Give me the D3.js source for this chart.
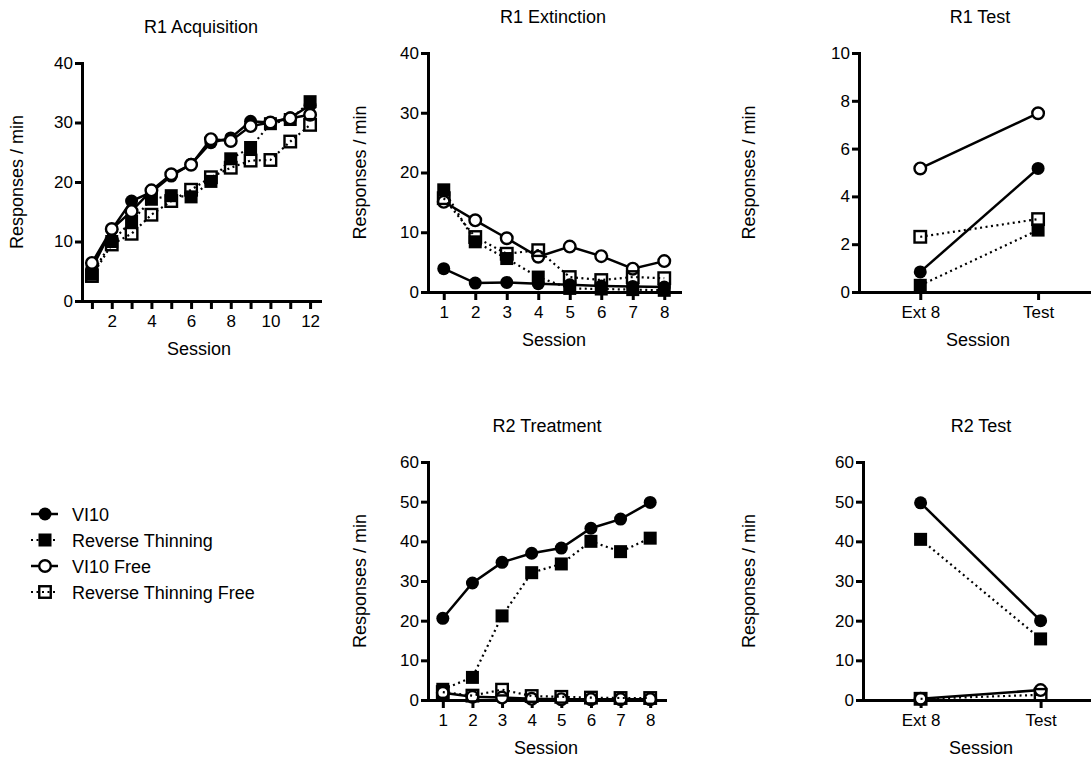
<!DOCTYPE html>
<html lang="en">
<head>
<meta charset="utf-8">
<script src="https://d3js.org/d3.v7.min.js"></script>
<style>
  body { margin: 0; background: #fff; }
  text { font-family: "Liberation Sans", Arial, sans-serif; fill: #000; }
</style>
</head>
<body>
<script>
// ---- data ----
var seriesNames = ["VI10", "Reverse Thinning", "VI10 Free", "Reverse Thinning Free"];

// R1 Acquisition
var acqSessions = [1, 2, 3, 4, 5, 6, 7, 8, 9, 10, 11, 12];
var acqVI10     = [5.5, 12.0, 16.8, 18.3, 21.0, 23.0, 26.6, 27.4, 30.2, 30.0, 30.8, 32.9];
var acqRT       = [4.5, 10.0, 13.4, 17.1, 17.7, 17.5, 20.1, 23.9, 25.8, 29.8, 30.5, 33.5];
var acqVI10Free = [6.4, 12.1, 15.1, 18.6, 21.3, 22.9, 27.2, 26.9, 29.4, 30.0, 30.7, 31.3];
var acqRTFree   = [4.2, 9.5, 11.3, 14.5, 16.8, 18.7, 20.8, 22.4, 23.6, 23.7, 26.8, 29.6];

// R1 Extinction
var extSessions = [1, 2, 3, 4, 5, 6, 7, 8];
var extVI10     = [3.9, 1.5, 1.6, 1.4, 1.2, 1.0, 0.9, 0.84];
var extRT       = [17.1, 8.4, 5.6, 2.5, 0.6, 0.5, 0.4, 0.28];
var extVI10Free = [15.1, 12.0, 9.0, 5.9, 7.6, 6.0, 3.9, 5.17];
var extRTFree   = [15.7, 9.2, 6.4, 7.0, 2.5, 2.0, 2.5, 2.31];

// R1 Test
var testLabels   = ["Ext 8", "Test"];
var r1TestVI10     = [0.84, 5.17];
var r1TestRT       = [0.28, 2.59];
var r1TestVI10Free = [5.17, 7.48];
var r1TestRTFree   = [2.31, 3.05];

// R2 Treatment
var trtSessions = [1, 2, 3, 4, 5, 6, 7, 8];
var trtVI10     = [20.6, 29.5, 34.7, 37.0, 38.3, 43.3, 45.6, 49.8];
var trtRT       = [2.7, 5.7, 21.2, 32.1, 34.3, 40.0, 37.4, 40.8];
var trtVI10Free = [1.8, 0.8, 0.6, 0.3, 0.2, 0.2, 0.2, 0.2];
var trtRTFree   = [2.0, 1.1, 2.6, 1.0, 0.8, 0.6, 0.5, 0.5];

// R2 Test
var r2TestVI10     = [49.7, 20.0];
var r2TestRT       = [40.5, 15.4];
var r2TestVI10Free = [0.3, 2.5];
var r2TestRTFree   = [0.3, 1.3];

// ---- styles per series ----
var styles = [
  {shape: "circle", filled: true,  dotted: false},
  {shape: "square", filled: true,  dotted: true},
  {shape: "circle", filled: false, dotted: false},
  {shape: "square", filled: false, dotted: true}
];

var svg = d3.select("body").append("svg")
    .attr("width", 1091)
    .attr("height", 761);

function drawMarker(g, st, cx, cy) {
  if (st.shape == "circle") {
    g.append("circle")
      .attr("cx", cx).attr("cy", cy)
      .attr("r", st.filled ? 6.5 : 5.8)
      .attr("fill", st.filled ? "#000" : "#fff")
      .attr("stroke", "#000")
      .attr("stroke-width", st.filled ? 0 : 2.4);
  } else {
    var s = st.filled ? 13 : 11.5;
    g.append("rect")
      .attr("x", cx - s / 2).attr("y", cy - s / 2)
      .attr("width", s).attr("height", s)
      .attr("fill", st.filled ? "#000" : "none")
      .attr("stroke", "#000")
      .attr("stroke-width", st.filled ? 0 : 2.4);
  }
}

function drawPanel(p) {
  var x = d3.scaleLinear().domain(p.xDomain).range(p.xRange);
  var y = d3.scaleLinear().domain(p.yDomain).range(p.yRange);
  var g = svg.append("g");

  var xAxis = d3.axisBottom(x)
      .tickValues(p.xTicks)
      .tickFormat(p.xFormat)
      .tickSize(8).tickPadding(6).tickSizeOuter(0);
  var yAxis = d3.axisLeft(y)
      .tickValues(p.yTicks)
      .tickSize(7).tickPadding(2).tickSizeOuter(0);

  var gx = g.append("g").attr("transform", "translate(0," + y(0) + ")").call(xAxis);
  var gy = g.append("g").attr("transform", "translate(" + p.xRange[0] + ",0)").call(yAxis);

  [gx, gy].forEach(function(a) {
    a.select(".domain").attr("stroke-width", 3).attr("stroke-linecap", "square");
    a.selectAll(".tick line").attr("stroke-width", 3);
    a.selectAll(".tick text")
      .attr("font-size", 17)
      .attr("font-family", "Liberation Sans, Arial, sans-serif")
      .attr("fill", "#000");
  });

  // series: line, then markers
  p.series.forEach(function(vals, k) {
    var st = styles[k];
    var pts = p.xVals.map(function(xv, i) { return [x(xv), y(vals[i])]; });
    g.append("path")
      .attr("d", d3.line()(pts))
      .attr("fill", "none")
      .attr("stroke", "#000")
      .attr("stroke-width", st.dotted ? 2.2 : 2.5)
      .attr("stroke-dasharray", st.dotted ? "2,3.5" : null);
    pts.forEach(function(pt) { drawMarker(g, st, pt[0], pt[1]); });
  });

  g.append("text")
    .attr("x", p.titleX).attr("y", p.titleY)
    .attr("text-anchor", "middle")
    .attr("font-size", 18)
    .text(p.title);

  g.append("text")
    .attr("x", p.sessionX).attr("y", y(0) + 54)
    .attr("text-anchor", "middle")
    .attr("font-size", 18)
    .text("Session");

  var cy = (p.yRange[0] + p.yRange[1]) / 2;
  g.append("text")
    .attr("transform", "translate(" + p.yLabelX + "," + cy + ") rotate(-90)")
    .attr("text-anchor", "middle")
    .attr("font-size", 18)
    .text("Responses / min");
}

var evenOnly = function(d) { return d % 2 == 0 ? d : ""; };
var testFmt = function(d) { return testLabels[d]; };

drawPanel({
  title: "R1 Acquisition", titleX: 201, titleY: 33,
  xVals: acqSessions, xDomain: [0.5, 12.5], xRange: [82, 320],
  xTicks: acqSessions, xFormat: evenOnly,
  yDomain: [0, 40], yRange: [301, 63], yTicks: [0, 10, 20, 30, 40],
  series: [acqVI10, acqRT, acqVI10Free, acqRTFree],
  sessionX: 199, yLabelX: 23
});

drawPanel({
  title: "R1 Extinction", titleX: 553, titleY: 23,
  xVals: extSessions, xDomain: [0.5, 8.5], xRange: [428, 680],
  xTicks: extSessions, xFormat: d3.format("d"),
  yDomain: [0, 40], yRange: [292, 53], yTicks: [0, 10, 20, 30, 40],
  series: [extVI10, extRT, extVI10Free, extRTFree],
  sessionX: 554, yLabelX: 366
});

drawPanel({
  title: "R1 Test", titleX: 980, titleY: 23,
  xVals: [0, 1], xDomain: [-0.52, 1.5], xRange: [859, 1097],
  xTicks: [0, 1], xFormat: testFmt,
  yDomain: [0, 10], yRange: [292, 53], yTicks: [0, 2, 4, 6, 8, 10],
  series: [r1TestVI10, r1TestRT, r1TestVI10Free, r1TestRTFree],
  sessionX: 978, yLabelX: 755
});

drawPanel({
  title: "R2 Treatment", titleX: 547, titleY: 432,
  xVals: trtSessions, xDomain: [0.5, 8.5], xRange: [428, 665],
  xTicks: trtSessions, xFormat: d3.format("d"),
  yDomain: [0, 60], yRange: [700, 462], yTicks: [0, 10, 20, 30, 40, 50, 60],
  series: [trtVI10, trtRT, trtVI10Free, trtRTFree],
  sessionX: 546, yLabelX: 366
});

drawPanel({
  title: "R2 Test", titleX: 981, titleY: 432,
  xVals: [0, 1], xDomain: [-0.48, 1.5], xRange: [863, 1100.6],
  xTicks: [0, 1], xFormat: testFmt,
  yDomain: [0, 60], yRange: [700, 462], yTicks: [0, 10, 20, 30, 40, 50, 60],
  series: [r2TestVI10, r2TestRT, r2TestVI10Free, r2TestRTFree],
  sessionX: 981, yLabelX: 755
});

// legend
var legendY = d3.scaleLinear().domain([0, 3]).range([514, 592]);
var legend = svg.append("g");
seriesNames.forEach(function(name, k) {
  var st = styles[k];
  var yy = legendY(k);
  legend.append("line")
    .attr("x1", 31).attr("x2", 58).attr("y1", yy).attr("y2", yy)
    .attr("stroke", "#000")
    .attr("stroke-width", st.dotted ? 2.2 : 2.5)
    .attr("stroke-dasharray", st.dotted ? "2,3.5" : null);
  drawMarker(legend, st, 45, yy);
  legend.append("text")
    .attr("x", 72).attr("y", yy + 6.5)
    .attr("font-size", 18)
    .text(name);
});
</script>
</body>
</html>
